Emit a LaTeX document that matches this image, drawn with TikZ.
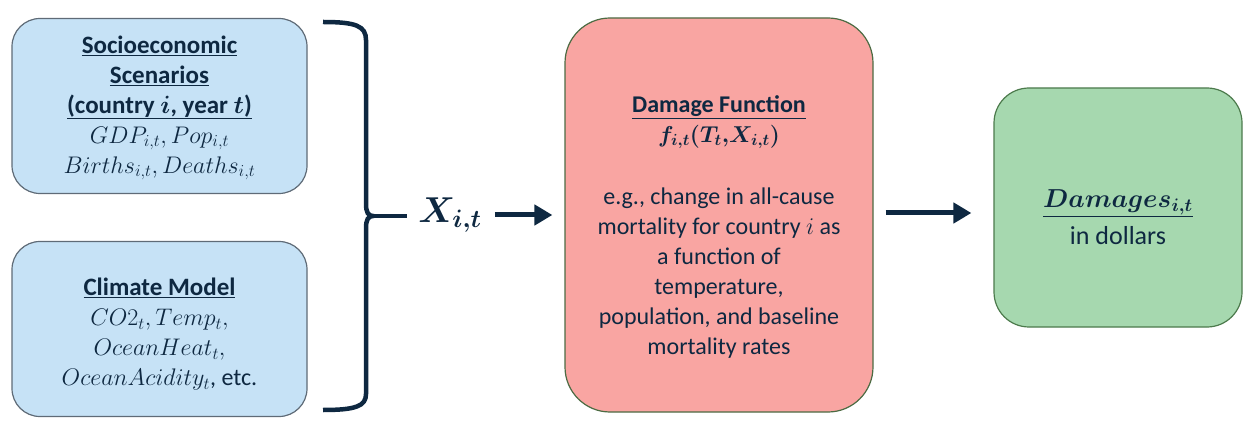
\RequirePackage{fix-cm}
\documentclass[tikz,border=0pt]{standalone}
\usepackage{fontspec}
\setmainfont{Carlito}
\usepackage{bm}
\usetikzlibrary{arrows.meta}
\definecolor{ink}{HTML}{0E2841}
\definecolor{bluefill}{HTML}{C6E2F6}
\definecolor{blueline}{HTML}{5F6B77}
\definecolor{redfill}{HTML}{F9A5A2}
\definecolor{redline}{HTML}{4C6B43}
\definecolor{greenfill}{HTML}{A6D8AF}
\definecolor{greenline}{HTML}{4C7A4C}
\begin{document}
\begin{tikzpicture}[x=1pt,y=-1pt,
  boxbase/.style={draw, line width=1.2pt, inner sep=0pt},
  bluebox/.style={boxbase, draw=blueline, fill=bluefill, minimum width=295pt,
    minimum height=175pt, rounded corners=28pt},
  redbox/.style={boxbase, draw=redline, fill=redfill, minimum width=308pt,
    minimum height=394pt, rounded corners=45pt},
  greenbox/.style={boxbase, draw=greenline, fill=greenfill, minimum width=248pt,
    minimum height=239pt, rounded corners=35pt},
  txt/.style={align=center, text=ink, inner sep=0pt, font=\fontsize{24}{30}\selectfont},
  arr/.style={draw=ink, line width=5pt, -{Triangle[length=18pt,width=20pt]}},
  bracestyle/.style={draw=ink, line width=4.5pt}
]
\useasboundingbox (0,0) rectangle (1255,430);

\node[bluebox] (socio) at (159.5,106) {};
\node[txt] (sociotxt) at (159.5,108) {{\fontsize{25}{30}\selectfont\underline{\textbf{Socioeconomic}}}\\
  {\fontsize{25}{30}\selectfont\underline{\textbf{Scenarios}}}\\
  {\fontsize{25}{30}\selectfont\underline{\textbf{(country $\bm{i}$, year $\bm{t}$)}}}\\
  $GDP_{i,t}, Pop_{i,t}$\\
  $Births_{i,t}, Deaths_{i,t}$};

\node[bluebox] (clim) at (159.5,329) {};
\node[txt] (climtxt) at (159.5,334) {{\fontsize{25}{30}\selectfont\underline{\textbf{Climate Model}}}\\
  $CO2_{t}, Temp_{t},$\\
  $OceanHeat_{t},$\\
  $OceanAcidity_{t}$, etc.};

% brace
\coordinate (btip) at (373,216);
\coordinate (bend) at (407,216);
\draw[bracestyle] (323,22) .. controls (356,22) and (366,26) .. (366,40)
  -- (366,204) .. controls (366,212) and (368,216) .. (btip)
  .. controls (368,216) and (366,220) .. (366,228)
  -- (366,394) .. controls (366,406) and (356,410) .. (323,410);
\draw[bracestyle] (btip) -- (bend);

\node[text=ink, inner sep=0pt, font=\fontsize{36}{44}\selectfont] (X) at (450,215) {$\bm{X_{i,t}}$};

\node[redbox] (dmg) at (719,215) {};
\node[txt] (dmgtxt) at (719,227) {\underline{\textbf{Damage Function}}\\
  {\fontsize{23}{30}\selectfont$\bm{f_{i,t}(T_t,\!X_{i,t})}$}\\[32pt]
  e.g., change in all-cause\\
  mortality for country $i$ as\\
  a function of\\
  temperature,\\
  population, and baseline\\
  mortality rates};

\node[greenbox] (out) at (1118,207.5) {};
\node[txt, font=\fontsize{26}{26}\selectfont] (outtxt) at (1118,217) {$\underline{\bm{Damages_{i,t}}}$\\[8pt]in dollars};

\draw[arr, shorten <=13pt, shorten >=12pt] (X.east) -- (X.east -| dmg.west);
\draw[arr, shorten <=12pt, shorten >=22pt] (dmg.east |- 0,213) -- (out.west |- 0,213);
\end{tikzpicture}
\end{document}
